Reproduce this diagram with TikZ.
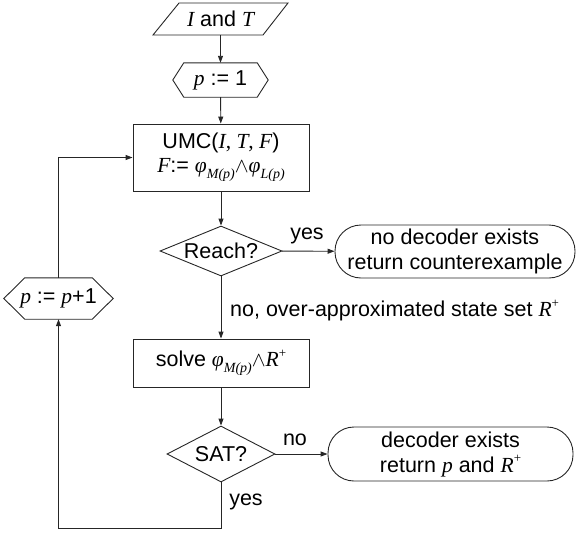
\documentclass[tikz,border=0pt]{standalone}
\usepackage{fontspec}
\setmainfont{Liberation Sans}
\newfontfamily\tim{Liberation Serif}
\usetikzlibrary{arrows.meta,shapes.geometric}
\newcommand{\vi}[1]{{\tim\itshape #1}}
\newcommand{\subx}[1]{\raisebox{-0.28em}{\fontsize{14}{14}\selectfont\tim\itshape #1}}
\newcommand{\supx}[1]{\raisebox{0.42em}{\fontsize{13}{13}\selectfont\tim #1}}
\newcommand{\fphi}{{\tim\itshape φ}}
\tikzset{
  every node/.style={font=\fontsize{21.5}{25}\selectfont, inner sep=0pt},
  ol/.style={draw=black!85, line width=0.9pt},
  boxn/.style={ol, rectangle},
  term/.style={ol, rectangle, rounded corners=26pt, align=center},
  dia/.style={ol, diamond},
  arr/.style={draw=black!85, line width=0.9pt, -{Triangle[length=7pt,width=5pt]}},
  lin/.style={draw=black!85, line width=0.9pt},
}
\begin{document}
\begin{tikzpicture}[x=1pt,y=-1pt]
\useasboundingbox (0,0) rectangle (576,533);
% input parallelogram
\node[minimum width=109, minimum height=32] (in) at (220.5,19) {\vi{I} and \vi{T}};
\draw[ol] (179,3) -- (288,3) -- (263,35) -- (153,35) -- cycle;
% p := 1
\node[minimum width=95, minimum height=34] (h1) at (220.5,80) {\vi{p} := 1};
\draw[ol] (h1.west) -- ([xshift=11]h1.north west) -- ([xshift=-11]h1.north east) -- (h1.east) -- ([xshift=-11]h1.south east) -- ([xshift=11]h1.south west) -- cycle;
% UMC box
\node[boxn, minimum width=176, minimum height=67, align=center] (umc) at (221,157.5)
  {UMC(\vi{I}{\tim, }\vi{T}{\tim, }\vi{F})\\[-1pt]\vi{F}:= \fphi\subx{M(p)}$\wedge$\fphi\subx{L(p)}};
% Reach?
\node[dia, minimum width=122, minimum height=50, aspect=2.44] (reach) at (221,251) {Reach?};
\node[term, minimum width=240, minimum height=53] (t1) at (455,251.5) {no decoder exists\\return counterexample};
\node (lyes1) at (307,236) {yes};
\node[anchor=west] (lno1) at (230,311) {no, over-approximated state set \vi{R}\supx{+}};
% solve
\node[boxn, minimum width=176, minimum height=48] (solve) at (221,363) {solve \fphi\subx{M(p)}$\wedge$\vi{R}\supx{+}};
% SAT?
\node[dia, minimum width=108, minimum height=56, aspect=1.93] (sat) at (221,454) {SAT?};
\node[term, minimum width=245, minimum height=54] (t2) at (450.5,454) {decoder exists\\return \vi{p} and \vi{R}\supx{+}};
\node (lno2) at (295,440) {no};
\node (lyes2) at (246,502) {yes};
% p := p+1
\node[minimum width=109, minimum height=41] (h2) at (58.5,298.5) {\vi{p} := \vi{p}+1};
\draw[ol] (h2.west) -- ([xshift=21]h2.north west) -- ([xshift=-21]h2.north east) -- (h2.east) -- ([xshift=-21]h2.south east) -- ([xshift=21]h2.south west) -- cycle;
\coordinate (c1) at (221,528);
\coordinate (c2) at (58.5,528);
% connectors
\draw[arr] (in) -- (h1);
\draw[arr] (h1) -- (umc);
\draw[arr] (umc) -- (reach);
\draw[arr] (reach) -- (t1);
\draw[arr] (reach) -- (solve);
\draw[arr] (solve) -- (sat);
\draw[arr] (sat) -- (t2);
\draw[arr] (sat.south) -- (c1) -- (c2) -- (h2.south);
\draw[arr] (h2.north) |- (umc.west);
\end{tikzpicture}
\end{document}
